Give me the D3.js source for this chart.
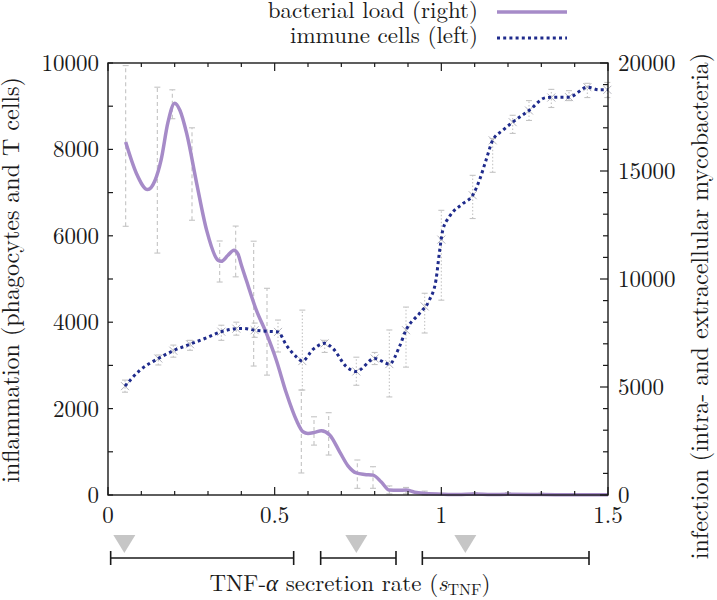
<!DOCTYPE html>
<html><head><meta charset="utf-8">
<script src="https://cdn.jsdelivr.net/npm/d3@7"></script>
<style>body{margin:0;background:#fff}svg{display:block}</style>
</head><body><svg id="c" width="717" height="600"></svg>
<script>
// ---- data ----
const bactX = [0.053,0.085,0.119,0.141,0.159,0.18,0.2,0.216,0.236,0.266,0.296,0.33,0.34,0.36,0.378,0.39,0.4,0.415,0.445,0.475,0.505,0.535,0.565,0.585,0.6,0.62,0.64,0.665,0.695,0.72,0.745,0.77,0.795,0.82,0.844,0.87,0.894,0.92,0.944,1.0,1.05,1.1,1.15,1.2,1.3,1.4,1.5];
const bactY = [16340,14900,14140,14560,15490,17260,18140,17800,16740,14430,12250,10870,10820,11100,11330,11150,10650,9940,8560,7490,6240,4720,3470,2930,2850,2900,2970,2780,2000,1350,1020,950,920,600,230,220,230,130,80,40,20,50,20,30,20,10,10];
const immX = [0.051,0.096,0.151,0.196,0.246,0.296,0.34,0.385,0.405,0.44,0.475,0.51,0.535,0.565,0.583,0.615,0.65,0.675,0.715,0.745,0.8,0.844,0.874,0.894,0.934,0.964,0.984,0.994,1.004,1.024,1.064,1.094,1.114,1.134,1.154,1.184,1.214,1.263,1.313,1.353,1.383,1.438,1.473,1.5];
const immY = [2520,2890,3160,3340,3490,3640,3780,3850,3855,3815,3790,3775,3470,3200,3100,3370,3510,3390,2970,2860,3160,3030,3430,3815,4200,4510,4980,5600,6120,6440,6740,6940,7280,7750,8210,8440,8630,8900,9195,9210,9210,9440,9380,9380];
const bactErrX  = [0.053,0.148,0.193,0.252,0.335,0.383,0.437,0.477,0.58,0.618,0.662,0.748,0.795,0.844,0.894,0.95,1.1,1.2,1.3,1.4];
const bactErrLo = [12440,11200,17420,12720,9860,10100,5970,5550,1020,2310,1850,310,310,50,50,0,0,0,0,0];
const bactErrHi = [19880,18880,18760,17000,11760,12450,11750,9570,4860,3620,3810,1620,1310,420,350,180,100,100,80,60];
const immErrX  = [0.051,0.151,0.196,0.246,0.34,0.385,0.44,0.51,0.583,0.65,0.745,0.8,0.844,0.894,0.95,1.0,1.094,1.154,1.214,1.263,1.33,1.383,1.438,1.498];
const immErrLo = [2380,3010,3190,3350,3580,3700,3650,3310,2430,3300,2540,3020,2270,2960,3750,4510,6400,7470,8370,8670,8970,9130,9200,9200];
const immErrHi = [2660,3240,3470,3580,3930,4000,3980,4050,4280,3580,3190,3300,3820,4350,4670,6590,7400,8250,8790,9130,9390,9360,9530,9550];
const xTicks = [0, 0.5, 1, 1.5];
const yLTicks = [0, 2000, 4000, 6000, 8000, 10000];
const yRTicks = [0, 5000, 10000, 15000, 20000];
const rangeStart = [0.008, 0.638, 0.943];
const rangeEnd   = [0.557, 0.864, 1.443];
const rangeMark  = [0.049, 0.745, 1.072];
const seriesNames = ["bacterial load (right)", "immune cells (left)"];

// ---- layout ----
const L = 108, R = 608, T = 63, B = 495;
const svg = d3.select("#c");
const x = d3.scaleLinear().domain([0, 1.5]).range([L, R]);
const yL = d3.scaleLinear().domain([0, 10000]).range([B, T]);
const yR = d3.scaleLinear().domain([0, 20000]).range([B, T]);
const purple = "#a68bc8", navy = "#1f2b8c", grey = "#c4c4c4", ink = "#1a1a1a";
const FONT = '"Latin Modern Roman", "Liberation Serif", serif';

function errBars(xs, lo, hi, ys, dash) {
  const g = svg.append("g").attr("stroke", grey).attr("stroke-width", 1.1).attr("fill", "none");
  xs.forEach((v, i) => {
    g.append("line").attr("x1", x(v)).attr("x2", x(v)).attr("y1", ys(lo[i])).attr("y2", ys(hi[i])).attr("stroke-dasharray", dash);
    [lo[i], hi[i]].forEach(e => g.append("line").attr("x1", x(v) - 3).attr("x2", x(v) + 3).attr("y1", ys(e)).attr("y2", ys(e)));
  });
  return g;
}
errBars(bactErrX, bactErrLo, bactErrHi, yR, "4,3");
const ig = errBars(immErrX, immErrLo, immErrHi, yL, "1.5,2");
const immInterp = d3.scaleLinear().domain(immX).range(immY);
immErrX.forEach(v => {
  const cx = x(v), cy = yL(immInterp(v)), s = 4;
  ig.append("path").attr("d", `M${cx - s},${cy - s}L${cx + s},${cy + s}M${cx - s},${cy + s}L${cx + s},${cy - s}`).attr("stroke", "#b4b4bc").attr("stroke-width", 1);
});

const bactLine = d3.line().x((d, i) => x(bactX[i])).y(d => yR(d)).curve(d3.curveMonotoneX);
svg.append("path").attr("d", bactLine(bactY)).attr("fill", "none").attr("stroke", purple).attr("stroke-width", 3.5).attr("stroke-linejoin", "round");
const immLine = d3.line().x((d, i) => x(immX[i])).y(d => yL(d)).curve(d3.curveMonotoneX);
svg.append("path").attr("d", immLine(immY)).attr("fill", "none").attr("stroke", navy).attr("stroke-width", 3).attr("stroke-dasharray", "3,3.2");

svg.append("rect").attr("x", L).attr("y", T).attr("width", R - L).attr("height", B - T).attr("fill", "none").attr("stroke", ink).attr("stroke-width", 1.4);

const tk = svg.append("g").attr("stroke", ink).attr("stroke-width", 1.2);
d3.range(0, 1.5001, 0.1).forEach(v => {
  const major = Math.abs(v * 2 - Math.round(v * 2)) < 1e-6;
  const len = major ? 8 : 4;
  tk.append("line").attr("x1", x(v)).attr("x2", x(v)).attr("y1", B).attr("y2", B - len);
  tk.append("line").attr("x1", x(v)).attr("x2", x(v)).attr("y1", T).attr("y2", T + len);
});
d3.range(0, 10001, 1000).forEach(v => {
  tk.append("line").attr("x1", L).attr("x2", L + 5).attr("y1", yL(v)).attr("y2", yL(v));
});
d3.range(0, 20001, 1000).forEach(v => {
  const len = v % 5000 === 0 ? 8 : 5;
  tk.append("line").attr("x1", R).attr("x2", R - len).attr("y1", yR(v)).attr("y2", yR(v));
});

const fs = 23;
const txt = (sel) => sel.attr("fill", ink).attr("font-size", fs).style("font-family", FONT);
xTicks.forEach(v => txt(svg.append("text")).attr("x", x(v)).attr("y", 523).attr("text-anchor", "middle").text(String(v)));
yLTicks.forEach(v => txt(svg.append("text")).attr("x", 99).attr("y", yL(v) + 8).attr("text-anchor", "end").text(v));
yRTicks.forEach(v => txt(svg.append("text")).attr("x", 618).attr("y", yR(v) + 8).attr("text-anchor", "start").text(v));

txt(svg.append("text")).attr("font-size", 24).attr("transform", `translate(19,${(T + B) / 2 + 1}) rotate(-90)`).attr("text-anchor", "middle").text("inflammation (phagocytes and T cells)");
txt(svg.append("text")).attr("font-size", 24).attr("transform", `translate(708,306) rotate(-90)`).attr("text-anchor", "middle").text("infection (intra- and extracellular mycobacteria)");
const xt = txt(svg.append("text")).attr("x", 350).attr("y", 591).attr("text-anchor", "middle");
xt.append("tspan").text("TNF-");
xt.append("tspan").attr("font-style", "italic").text("α");
xt.append("tspan").text(" secretion rate (");
xt.append("tspan").attr("font-style", "italic").text("s");
xt.append("tspan").attr("font-size", 16).attr("dy", 4).text("TNF");
xt.append("tspan").attr("dy", -4).text(")");

const rg = svg.append("g");
rangeStart.forEach((s, i) => {
  const y0 = 558;
  rg.append("line").attr("x1", x(s)).attr("x2", x(rangeEnd[i])).attr("y1", y0).attr("y2", y0).attr("stroke", ink).attr("stroke-width", 1.6);
  [s, rangeEnd[i]].forEach(e => rg.append("line").attr("x1", x(e)).attr("x2", x(e)).attr("y1", y0 - 7).attr("y2", y0 + 7).attr("stroke", ink).attr("stroke-width", 1.6));
});
rangeMark.forEach(m => {
  const cx = x(m);
  rg.append("path").attr("d", `M${cx - 11},535L${cx + 11},535L${cx},553Z`).attr("fill", "#c6c6c6");
});

const leg = [{ name: seriesNames[0], y: 18, ly: 12, color: purple, w: 3.5, dash: null }, { name: seriesNames[1], y: 43, ly: 38, color: navy, w: 3, dash: "3,3.2" }];
leg.forEach(d => {
  txt(svg.append("text")).attr("x", 478).attr("y", d.y).attr("text-anchor", "end").text(d.name);
  svg.append("line").attr("x1", 497).attr("x2", 567).attr("y1", d.ly).attr("y2", d.ly).attr("stroke", d.color).attr("stroke-width", d.w).attr("stroke-dasharray", d.dash);
});
</script></body></html>
